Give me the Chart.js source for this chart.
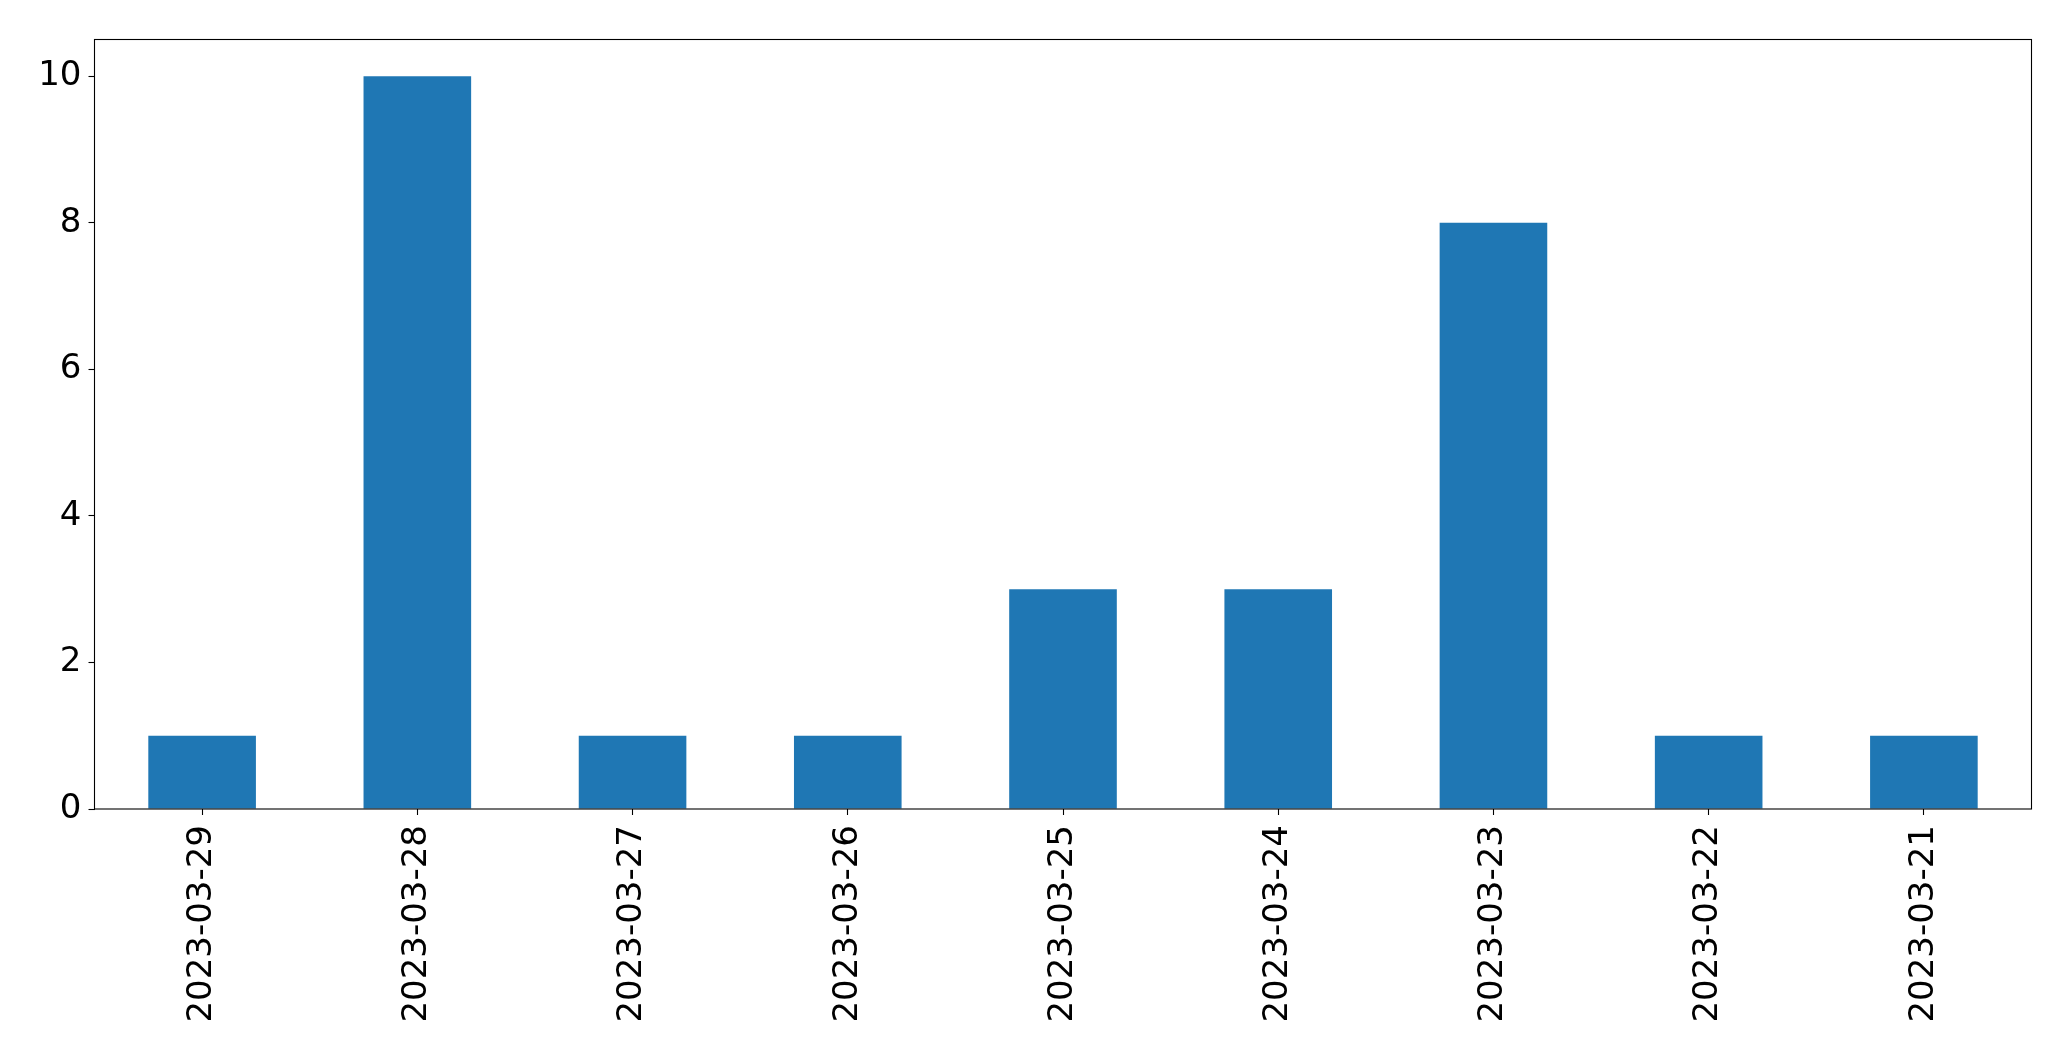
<!DOCTYPE html>
<html>
<head>
<meta charset="utf-8">
<script src="https://cdn.jsdelivr.net/npm/chart.js@4/dist/chart.umd.min.js"></script>
<style>
  html, body { margin: 0; padding: 0; background: #fff; }
  #wrap { width: 2071px; height: 1061px; }
</style>
</head>
<body>
<div id="wrap"><canvas id="chart" width="2071" height="1061"></canvas></div>
<script>
const dates = ['2023-03-29', '2023-03-28', '2023-03-27', '2023-03-26', '2023-03-25',
  '2023-03-24', '2023-03-23', '2023-03-22', '2023-03-21'];
const counts = [1, 10, 1, 1, 3, 3, 8, 1, 1];
const yTicks = [0, 2, 4, 6, 8, 10];

const FONT = { family: '"DejaVu Sans", sans-serif', size: 34 };

// axes frame: matplotlib draws all four spines
const frame = {
  id: 'frame',
  afterDatasetsDraw(chart) {
    const { ctx, chartArea: a } = chart;
    ctx.save();
    ctx.strokeStyle = '#000';
    ctx.lineWidth = 1.1;
    ctx.strokeRect(a.left, a.top, a.right - a.left, a.bottom - a.top);
    ctx.restore();
  },
};

new Chart(document.getElementById('chart'), {
  type: 'bar',
  data: {
    labels: dates,
    datasets: [{
      data: counts,
      backgroundColor: '#1f77b4',
      borderWidth: 0,
      barPercentage: 0.5,
      categoryPercentage: 1,
    }],
  },
  options: {
    responsive: false,
    animation: false,
    layout: { padding: { top: 39.5, right: 39.5, left: 0, bottom: 0 } },
    plugins: { legend: { display: false }, tooltip: { enabled: false } },
    scales: {
      x: {
        offset: true,
        grid: { offset: false, drawOnChartArea: false, drawTicks: true, tickLength: 6, tickColor: '#000', tickWidth: 1.1 },
        border: { display: false },
        ticks: { color: '#000', font: FONT, minRotation: 90, maxRotation: 90, padding: 10, autoSkip: false },
        afterFit: (s) => { s.height = 1061 - 809; },
      },
      y: {
        min: 0,
        max: 10.5,
        grid: { drawOnChartArea: false, drawTicks: true, tickLength: 6, tickColor: '#000', tickWidth: 1.1 },
        border: { display: false },
        ticks: { color: '#000', font: FONT, padding: 7 },
        afterBuildTicks: (s) => { s.ticks = yTicks.map((v) => ({ value: v })); },
        afterFit: (s) => { s.width = 94.5; },
      },
    },
  },
  plugins: [frame],
});
</script>
</body>
</html>
